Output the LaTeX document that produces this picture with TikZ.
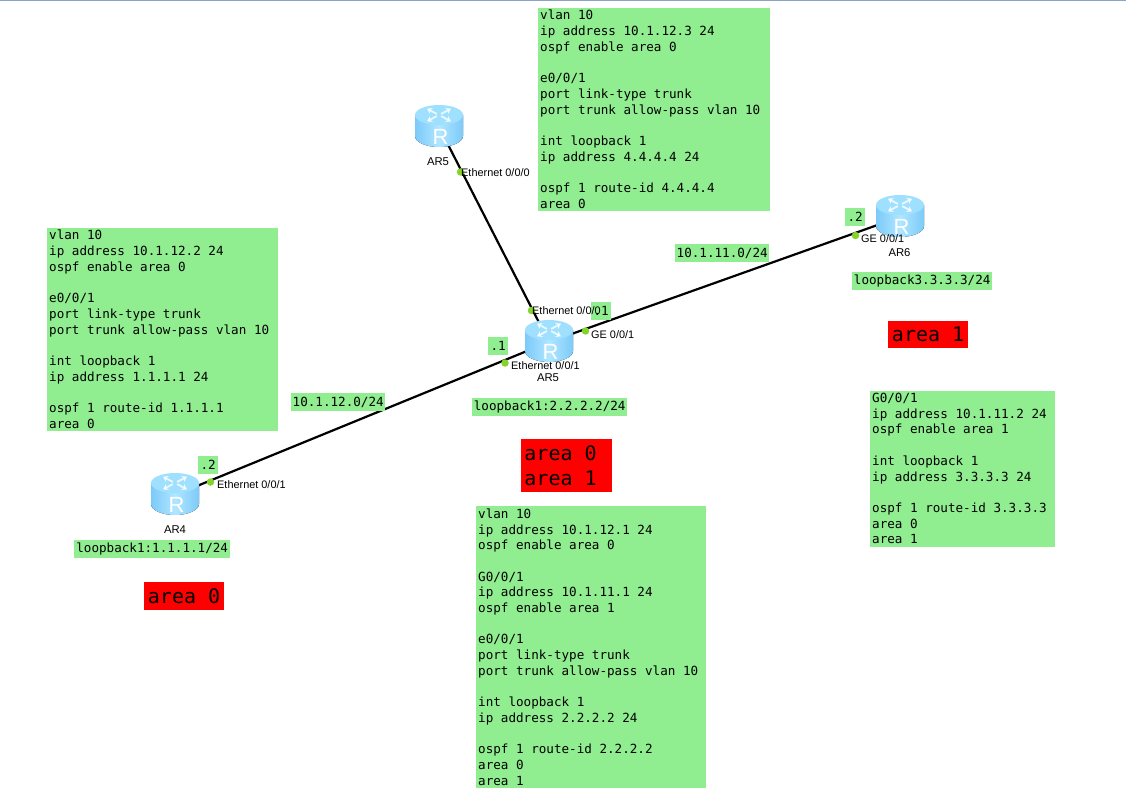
\documentclass[tikz,border=0pt]{standalone}
\usepackage{fontspec}
\setmainfont{Liberation Sans}
\setmonofont{DejaVu Sans Mono}
\usetikzlibrary{arrows.meta}

\definecolor{cfggreen}{HTML}{90EE90}
\definecolor{areared}{HTML}{FF0000}
\definecolor{portgreen}{HTML}{85D42C}
\definecolor{routerside}{HTML}{7CCAFA}
\definecolor{routermid}{HTML}{B0E6FF}
\definecolor{routertop}{HTML}{A0E0FF}
\definecolor{topedge}{HTML}{8AA6C4}

\tikzset{
    x=1pt, y=-1pt,
    cfgbox/.style={fill=cfggreen, anchor=north west, align=flush left, inner xsep=2pt, inner ysep=2.5pt,
        font=\fontsize{12.6}{15.7}\selectfont\ttfamily,
        execute at begin node={\spaceskip=.602em\relax}},
    tagbox/.style={fill=cfggreen, anchor=north west, inner sep=0pt, align=center,
        font=\fontsize{12.6}{15.7}\selectfont\ttfamily},
    areabox/.style={fill=areared, anchor=north west, inner xsep=3.75pt, inner ysep=0pt, align=flush left,
        font=\fontsize{20}{25}\selectfont\ttfamily,
        execute at begin node={\spaceskip=.602em\relax}},
    routernode/.style={inner sep=0pt, minimum size=20pt},
    portdot/.style={circle, fill=portgreen, inner sep=0pt, minimum size=7.5pt},
    portlabel/.style={anchor=west, inner sep=0pt, font=\fontsize{10.9}{12}\selectfont},
    devlabel/.style={inner sep=0pt, font=\fontsize{11.3}{12}\selectfont},
    link/.style={line width=2.2pt, black},
    routericon/.pic={
        \fill[left color=routerside, right color=routerside, middle color=routermid]
            (-24,-12) -- (-24,9) arc[x radius=24, y radius=11, start angle=180, end angle=0, y=1pt]
            -- (24,-12) -- cycle;
        \fill[routertop] (0,-12) ellipse[x radius=24, y radius=10];
        \foreach \a in {45,135,225,315}
            \draw[white, line width=1.8pt, opacity=.8, -{Stealth[length=5pt,width=6.5pt]}]
                ({3*cos(\a)},{-12+1.5*sin(\a)}) -- ({17*cos(\a)},{-12+9*sin(\a)});
        \node[white, inner sep=0pt, font=\fontsize{22}{22}\selectfont] at (1.5,10) {R};
    }
}

\begin{document}
\begin{tikzpicture}
    \useasboundingbox (0,0) rectangle (1126,810);
    \fill[topedge] (0,0) rectangle (1126,1.5);

    % routers
    \node[routernode] (ar5top) at (439,127) {};
    \node[routernode] (ar5mid) at (549,342) {};
    \node[routernode] (ar4) at (175,495) {};
    \node[routernode] (ar6) at (900,217) {};

    % links
    \draw[link] (ar5top.center) -- (ar5mid.center);
    \draw[link] (ar4.center) -- (ar5mid.center);
    \draw[link] (ar5mid.center) -- (ar6.center);

    \pic at (ar5top) {routericon};
    \pic at (ar5mid) {routericon};
    \pic at (ar4) {routericon};
    \pic at (ar6) {routericon};

    % config boxes
    \node[cfgbox, text width=228pt] (cfgtop) at (538,7.5) {
        vlan 10 \\
        ip address 10.1.12.3 24 \\
        ospf enable area 0 \\[15.7pt]
        e0/0/1 \\
        port link-type trunk \\
        port trunk allow-pass vlan 10 \\[15.7pt]
        int loopback 1 \\
        ip address 4.4.4.4 24 \\[15.7pt]
        ospf 1 route-id 4.4.4.4 \\
        area 0
    };
    \node[cfgbox, text width=227pt] (cfgleft) at (47,227.5) {
        vlan 10 \\
        ip address 10.1.12.2 24 \\
        ospf enable area 0 \\[15.7pt]
        e0/0/1 \\
        port link-type trunk \\
        port trunk allow-pass vlan 10 \\[15.7pt]
        int loopback 1 \\
        ip address 1.1.1.1 24 \\[15.7pt]
        ospf 1 route-id 1.1.1.1 \\
        area 0
    };
    \node[cfgbox, text width=226pt] (cfgmid) at (476,506) {
        vlan 10 \\
        ip address 10.1.12.1 24 \\
        ospf enable area 0 \\[15.7pt]
        G0/0/1 \\
        ip address 10.1.11.1 24 \\
        ospf enable area 1 \\[15.7pt]
        e0/0/1 \\
        port link-type trunk \\
        port trunk allow-pass vlan 10 \\[15.7pt]
        int loopback 1 \\
        ip address 2.2.2.2 24 \\[15.7pt]
        ospf 1 route-id 2.2.2.2 \\
        area 0 \\
        area 1
    };
    \node[cfgbox, text width=181pt] (cfgright) at (870,390.5) {
        G0/0/1 \\
        ip address 10.1.11.2 24 \\
        ospf enable area 1 \\[15.7pt]
        int loopback 1 \\
        ip address 3.3.3.3 24 \\[15.7pt]
        ospf 1 route-id 3.3.3.3 \\
        area 0 \\
        area 1
    };

    % small tags
    \node[tagbox, minimum width=20pt, minimum height=18pt] (tagfour) at (198,456) {.2};
    \node[tagbox, minimum width=20pt, minimum height=18pt] (tagleft) at (488,337) {.1};
    \node[tagbox, minimum width=20pt, minimum height=18pt] (tagupper) at (591,302) {.1};
    \node[tagbox, minimum width=20pt, minimum height=18pt] (tagsix) at (845,208) {.2};
    \node[tagbox, minimum width=94pt, minimum height=18pt] (netleft) at (291,393) {10.1.12.0/24};
    \node[tagbox, minimum width=94pt, minimum height=18pt] (netright) at (675,244) {10.1.11.0/24};
    \node[tagbox, minimum width=156pt, minimum height=18pt] (loopfour) at (74,540) {loopback1:1.1.1.1/24};
    \node[tagbox, minimum width=155pt, minimum height=18pt] (loopfive) at (472,398) {loopback1:2.2.2.2/24};
    \node[tagbox, minimum width=140pt, minimum height=18pt] (loopsix) at (852,272) {loopback3.3.3.3/24};

    % area tags
    \node[areabox, text width=72.5pt, minimum height=28pt] (areazero) at (144,582) {area 0};
    \node[areabox, text width=84pt, minimum height=53pt] (areaboth) at (520.5,439) {area 0 \\ area 1};
    \node[areabox, text width=72.5pt, minimum height=27pt] (areaone) at (888,321) {area 1};

    % ports
    \node[portdot] (p5top) at (460.5,172) {};
    \node[portdot] (p5mid) at (531.5,310.5) {};
    \node[portdot] (p5ge) at (585.5,331) {};
    \node[portdot] (p5eth) at (505,363) {};
    \node[portdot] (p4eth) at (210.5,482) {};
    \node[portdot] (p6ge) at (855.5,235.5) {};

    \node[portlabel] at (461,172.5) {Ethernet 0/0/0};
    \node[portlabel] at (532,311) {Ethernet 0/0/0};
    \node[portlabel] at (591,334.5) {GE 0/0/1};
    \node[portlabel] at (511,366) {Ethernet 0/0/1};
    \node[portlabel] at (217,484.5) {Ethernet 0/0/1};
    \node[portlabel] at (861,239) {GE 0/0/1};

    % device names
    \node[devlabel] at (438,161.5) {AR5};
    \node[devlabel] at (548,378) {AR5};
    \node[devlabel] at (175,530) {AR4};
    \node[devlabel] at (899.5,252.5) {AR6};
\end{tikzpicture}
\end{document}
